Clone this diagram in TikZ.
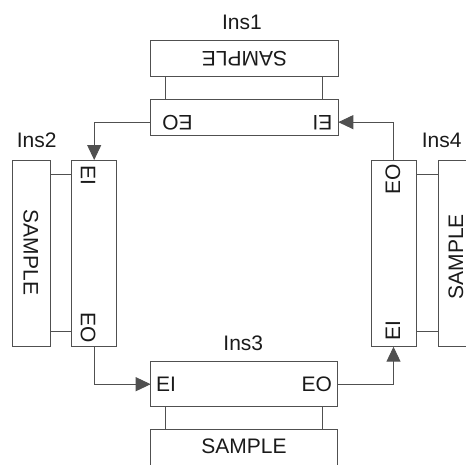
\documentclass[tikz,border=0pt]{standalone}
\usepackage{fontspec}
\setmainfont{Liberation Sans}
\usetikzlibrary{arrows.meta}
\definecolor{ln}{HTML}{505050}
\definecolor{tx}{HTML}{1A1A1A}
\begin{document}
\begin{tikzpicture}[x=1pt,y=-1pt,
  box/.style={draw=ln,line width=1pt,inner sep=0pt,outer sep=0pt},
  lbl/.style={text=tx,font=\fontsize{21}{25}\selectfont,inner sep=0pt},
  wire/.style={draw=ln,line width=1pt},
  conn/.style={draw=ln,line width=1pt,-{Triangle[length=15pt,width=14pt]}}]
\useasboundingbox (0,0) rectangle (466,464);
\clip (0,0) rectangle (466,464);
% Ins1
\node[box,minimum width=187.6pt,minimum height=36.7pt] (s1) at (244.5,58.35) {};
\node[box,minimum width=187.6pt,minimum height=35.7pt] (p1) at (244.5,117.15) {};
\draw[wire] ([xshift=15pt]s1.south west) -- ([xshift=15pt]p1.north west);
\draw[wire] ([xshift=-15.6pt]s1.south east) -- ([xshift=-15.6pt]p1.north east);
\node[lbl] (n1) at (242,22) {Ins1};
\node[lbl,rotate=180] (t1) at (244.5,58.3) {SAMPLE};
\node[lbl,rotate=180] (eo1) at (177.5,123) {EO};
\node[lbl,rotate=180] (ei1) at (322.5,123) {EI};
% Ins2
\node[box,minimum width=37.3pt,minimum height=186.7pt] (s2) at (31.35,253.35) {};
\node[box,minimum width=45pt,minimum height=186.7pt] (p2) at (94.2,253.35) {};
\draw[wire] ([yshift=-14pt]s2.north east) -- ([yshift=-14pt]p2.north west);
\draw[wire] ([yshift=15pt]s2.south east) -- ([yshift=15pt]p2.south west);
\node[lbl] (n2) at (36.7,140) {Ins2};
\node[lbl,rotate=-90] (t2) at (30.8,252.5) {SAMPLE};
\node[lbl,rotate=-90] (ei2) at (88,175.8) {EI};
\node[lbl,rotate=-90] (eo2) at (88,327.5) {EO};
% Ins3
\node[box,minimum width=187pt,minimum height=45pt] (p3) at (244.2,384.2) {};
\node[box,minimum width=187pt,minimum height=51pt] (s3) at (244.2,454.5) {};
\draw[wire] ([xshift=15pt]p3.south west) -- ([xshift=15pt]s3.north west);
\draw[wire] ([xshift=-15.4pt]p3.south east) -- ([xshift=-15.4pt]s3.north east);
\node[lbl] (n3) at (243.3,343.3) {Ins3};
\node[lbl] (ei3) at (166,384) {EI};
\node[lbl] (eo3) at (316.7,384) {EO};
\node[lbl] (t3) at (244,446.7) {SAMPLE};
% Ins4
\node[box,minimum width=45pt,minimum height=186.7pt] (p4) at (393.5,253.35) {};
\node[box,minimum width=51.7pt,minimum height=186.7pt] (s4) at (464.15,253.35) {};
\draw[wire] ([yshift=-14pt]p4.north east) -- ([yshift=-14pt]s4.north west);
\draw[wire] ([yshift=15pt]p4.south east) -- ([yshift=15pt]s4.south west);
\node[lbl] (n4) at (441.7,140) {Ins4};
\node[lbl,rotate=90] (t4) at (455.8,256.7) {SAMPLE};
\node[lbl,rotate=90] (eo4) at (393,179) {EO};
\node[lbl,rotate=90] (ei4) at (393,330.8) {EI};
% connectors
\draw[conn] ([yshift=-5pt]p1.west) -| (p2.north);
\draw[conn] (p2.south) |- (p3.west);
\draw[conn] (p3.east) -| (p4.south);
\draw[conn] (p4.north) |- ([yshift=-5pt]p1.east);
\end{tikzpicture}
\end{document}
